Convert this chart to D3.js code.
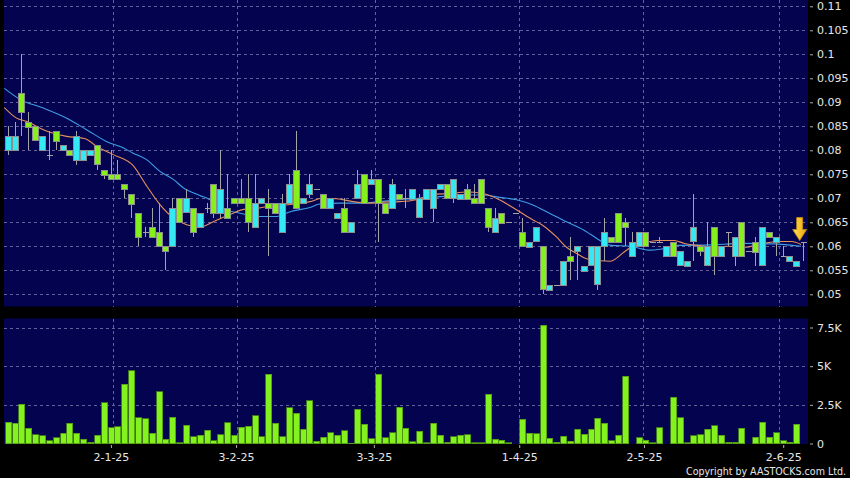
<!DOCTYPE html>
<html><head><meta charset="utf-8">
<script src="https://cdn.jsdelivr.net/npm/d3@7"></script>
<style>body{margin:0;background:#000;}svg{display:block}</style>
</head><body>
<svg id="c" width="850" height="478"></svg>
<script>
// ---- data ----
const opens  = [.080,.080,.092,.086,.085,.080,.079,.084,.080,.080,.078,.078,.079,.081,.076,.075,.075,.073,.071,.067,.063,.064,.063,.060,.060,.070,.067,.068,.064,.068,
.073,.067,.068,.070,.070,.070,.064,.069,.069,.069,.063,.069,.076,.069,.071,.072,.071,.068,.066,.068,.063,.070,.075,.073,.074,.069,.068,.071,.070,.070,
.066,.070,.068,.072,.073,.070,.070,.072,.070,.074,.068,.063,.067,.065,.067,.063,.060,.061,.060,.051,.052,.052,.058,.059,.055,.056,.052,.060,.062,.067,
.065,.058,.060,.063,.061,.061,.058,.061,.056,.056,.061,.060,.056,.064,.058,.063,.058,.065,.059,.061,.056,.063,.061,.058,.057,.056,.061];
const highs  = [.085,.086,.100,.088,.085,.083,.084,.084,.081,.080,.084,.080,.080,.081,.076,.080,.078,.073,.071,.067,.064,.068,.069,.060,.070,.070,.072,.068,.067,.069,
.073,.080,.075,.070,.074,.075,.075,.070,.072,.069,.071,.075,.084,.070,.075,.072,.071,.070,.067,.070,.065,.076,.075,.076,.074,.069,.074,.071,.072,.072,
.071,.072,.072,.073,.073,.074,.071,.073,.073,.074,.068,.068,.067,.065,.067,.066,.061,.064,.060,.052,.052,.057,.062,.060,.056,.060,.060,.066,.062,.067,
.066,.063,.063,.063,.061,.062,.060,.061,.059,.057,.071,.060,.065,.064,.060,.063,.062,.065,.059,.062,.064,.063,.062,.060,.058,.057,.061];
const lows   = [.079,.080,.083,.080,.082,.080,.078,.080,.080,.079,.077,.078,.079,.076,.074,.074,.074,.070,.066,.060,.062,.062,.060,.055,.060,.065,.067,.062,.064,.067,
.066,.066,.066,.069,.069,.063,.064,.069,.058,.067,.063,.069,.068,.069,.070,.072,.068,.068,.066,.063,.063,.070,.069,.073,.061,.067,.068,.070,.068,.070,
.066,.070,.065,.072,.070,.069,.070,.070,.069,.069,.063,.063,.065,.065,.067,.060,.060,.061,.050,.051,.052,.052,.053,.053,.055,.056,.051,.057,.061,.061,
.060,.058,.060,.060,.061,.061,.058,.058,.056,.056,.057,.058,.056,.054,.058,.060,.056,.058,.059,.056,.056,.062,.058,.058,.057,.056,.057];
const closes = [.083,.083,.088,.085,.082,.083,.079,.082,.081,.079,.083,.080,.080,.077,.075,.074,.074,.072,.069,.062,.063,.062,.060,.059,.068,.065,.070,.063,.067,.068,
.067,.072,.066,.069,.069,.065,.069,.070,.068,.067,.069,.073,.068,.070,.073,.072,.068,.070,.067,.063,.065,.073,.069,.074,.069,.067,.073,.070,.070,.072,
.070,.072,.072,.073,.070,.074,.071,.070,.069,.069,.064,.066,.065,.065,.067,.060,.061,.064,.051,.052,.052,.057,.057,.060,.056,.060,.060,.063,.061,.061,
.064,.061,.063,.060,.061,.061,.060,.058,.059,.057,.064,.059,.060,.058,.060,.063,.062,.058,.059,.059,.064,.062,.062,.058,.058,.057,.061];
// volume in thousands
const volumes = [1.36,1.32,2.53,0.97,0.58,0.50,0.17,0.37,0.67,1.30,0.67,0.26,0.09,0.54,2.64,1.02,1.08,3.82,4.71,1.66,1.60,0.65,3.33,0.28,1.71,0.04,1.17,0.43,0.52,0.86,
0.19,0.58,1.34,0.52,1.06,1.10,1.81,0.45,4.49,1.32,0.45,2.31,1.97,0.93,2.76,0.15,0.41,0.71,0.52,0.84,0.02,2.22,1.23,0.32,4.47,0.37,0.69,2.33,0.97,0.11,
0.80,0.06,1.30,0.54,0.09,0.45,0.52,0.58,0.06,0.06,3.17,0.28,0.22,0.06,0,1.56,0.65,0.63,7.65,0.35,0.09,0.48,0.15,0.93,0.60,0.91,1.62,1.32,0.17,0.54,
4.34,0,0.37,0.22,0.04,1.02,0,3.00,1.66,0.04,0.50,0.58,0.93,1.14,0.54,0.09,0.09,0.99,0,0.41,1.36,0.41,0.71,0.17,0.09,1.25,0];
// moving averages: [candle index, value]
const maLong = [[-0.5,.0929],[1.8,.0906],[5.2,.0888],[8.6,.0867],[11.5,.0843],[14.9,.0815],[16.4,.0808],[18.3,.0794],[20.3,.0780],[22.2,.0756],[24.2,.0739],[25.6,.0722],
[28,.0706],[29.5,.0697],[30.9,.0681],[33.9,.0669],[36.8,.0662],[39.2,.0662],[41.2,.0672],[44.1,.0681],[45.5,.0688],[48.5,.0690],[51.4,.0690],[54.3,.0693],[57.2,.0697],
[62,.0702],[66.9,.0707],[69.3,.0707],[71.7,.0702],[74.2,.0697],[76.6,.0686],[79,.0669],[81.5,.0651],[84,.0634],[85,.0625],[88,.0602],[90.8,.0600],[93.7,.0592],
[95.2,.0594],[97.9,.0602],[102.4,.0603],[107.3,.0606],[111.7,.0605],[115.7,.0600]];
const maShort = [[-0.5,.0889],[1.3,.0867],[2.8,.0860],[5.2,.0843],[8.6,.0829],[11.3,.0824],[13,.0808],[15.4,.0791],[18.3,.0768],[20.3,.0725],[22.2,.0687],[24.2,.0659],
[26.1,.0645],[28,.0640],[30,.0651],[31.7,.0662],[32.9,.0669],[34.4,.0677],[36.3,.0679],[38.2,.0684],[40.2,.0686],[42.1,.0688],[44.1,.0693],[45.8,.0700],[48,.0699],
[50.4,.0693],[52.8,.0690],[54.8,.0692],[57.2,.0693],[59.6,.0697],[62,.0708],[64.5,.0710],[66.9,.0713],[69.3,.0710],[71.7,.0697],[74.2,.0676],[76.6,.0655],[78,.0644],
[80,.0620],[81.5,.0598],[83,.0585],[84.4,.0574],[86.4,.0570],[87.9,.0569],[89.9,.0588],[91.3,.0602],[92.8,.0607],[94.7,.0612],[97.2,.0612],[98.7,.0606],[101.1,.0601],
[103,.0598],[105,.0600],[107.5,.0598],[109.9,.0605],[112.3,.0610],[114.3,.0610],[115.7,.0604]];
const dateLabels = ["2-1-25","3-2-25","3-3-25","1-4-25","2-5-25","2-6-25"];
const dateIdx    = [15.05, 33.3, 53.4, 74.6, 92.8, 113.1];
const gridIdx    = [15.4, 33.5, 53.5, 74.5, 92.6, 112.5];
const priceTicks = [0.05,0.055,0.06,0.065,0.07,0.075,0.08,0.085,0.09,0.095,0.1,0.105,0.11];
const priceTickLabels = ["0.05","0.055","0.06","0.065","0.07","0.075","0.08","0.085","0.09","0.095","0.1","0.105","0.11"];
const volTicks = [0,2.5,5,7.5];
const volTickLabels = ["0","2.5K","5K","7.5K"];
const arrowAt = [115.5, 0.0612];

// ---- layout ----
const W=850,H=478;
const P={l:4,r:808,t:0,b:306.5}, V={t:318.5,b:444};
const NAVY="#03034f", GRID="#62629a", UP="#36e8f2", DOWN="#86f01c", EDGE="#8e8e8e";
const svg=d3.select('#c');
svg.append('rect').attr('width',W).attr('height',H).attr('fill','#000');
const x=d3.scaleLinear().domain([0,116]).range([7.7,803.1]);
const y=d3.scaleLinear().domain([0.05,0.11]).range([294.3,6.3]);
const yv=d3.scaleLinear().domain([0,7.5]).range([443.5,327.5]);

svg.append('rect').attr('x',P.l).attr('y',P.t).attr('width',P.r-P.l).attr('height',P.b-P.t).attr('fill',NAVY);
svg.append('rect').attr('x',P.l).attr('y',V.t).attr('width',P.r-P.l).attr('height',V.b-V.t).attr('fill',NAVY);

const defs=svg.append('defs');
defs.append('clipPath').attr('id','cp').append('rect').attr('x',P.l).attr('y',P.t).attr('width',P.r-P.l).attr('height',P.b-P.t);
const gr=defs.append('linearGradient').attr('id','ag').attr('x1','0').attr('x2','1');
gr.append('stop').attr('offset','0').attr('stop-color','#ffe45a');
gr.append('stop').attr('offset','1').attr('stop-color','#e9a20a');

// grids
const g=svg.append('g').attr('stroke',GRID).attr('stroke-dasharray','3,3').attr('stroke-width',1).attr('shape-rendering','crispEdges');
priceTicks.forEach(v=>g.append('line').attr('x1',P.l).attr('x2',P.r).attr('y1',Math.round(y(v))+0.5).attr('y2',Math.round(y(v))+0.5));
volTicks.filter(v=>v>0).forEach(v=>g.append('line').attr('x1',P.l).attr('x2',P.r).attr('y1',Math.round(yv(v))+0.5).attr('y2',Math.round(yv(v))+0.5));
gridIdx.forEach(i=>{
  const xx=Math.round(x(i))+0.5;
  g.append('line').attr('x1',xx).attr('x2',xx).attr('y1',P.t).attr('y2',P.b);
  g.append('line').attr('x1',xx).attr('x2',xx).attr('y1',V.t).attr('y2',V.b);
});

// MA lines
const line=d3.line().x(d=>x(d[0])).y(d=>y(d[1])).curve(d3.curveMonotoneX);
const mg=svg.append('g').attr('clip-path','url(#cp)').attr('fill','none').attr('stroke-width',1.1);
mg.append('path').attr('d',line(maLong)).attr('stroke','#3f9ee6');
mg.append('path').attr('d',line(maShort)).attr('stroke','#e6905c');

// candles
const idx=d3.range(opens.length);
const cg=svg.append('g').attr('shape-rendering','crispEdges');
idx.forEach(i=>{
  const cx=Math.round(x(i))+0.5, o=opens[i], c=closes[i];
  cg.append('line').attr('x1',cx).attr('x2',cx).attr('y1',y(highs[i])).attr('y2',y(lows[i])).attr('stroke','#a4a4a4');
  if(o===c){
    cg.append('line').attr('x1',cx-3).attr('x2',cx+3).attr('y1',Math.round(y(o))+0.5).attr('y2',Math.round(y(o))+0.5).attr('stroke','#a4a4a4');
  } else {
    const t=y(Math.max(o,c)), b=y(Math.min(o,c));
    cg.append('rect').attr('x',cx-3).attr('width',6).attr('y',Math.round(t)+0.5).attr('height',Math.max(1,Math.round(b-t)))
      .attr('fill',c>o?UP:DOWN).attr('stroke',EDGE).attr('stroke-width',1);
  }
});

// volume bars
const vg=svg.append('g').attr('shape-rendering','crispEdges');
idx.forEach(i=>{
  if(volumes[i]<=0) return;
  const cx=Math.round(x(i));
  const t=yv(volumes[i]);
  vg.append('rect').attr('x',cx-2.5).attr('width',6).attr('y',t).attr('height',Math.max(0.8,yv(0)-t))
    .attr('fill','#84f21e').attr('stroke','#4d8f14').attr('stroke-width',0.8);
});

// arrow
const ax=x(arrowAt[0]), ay=y(arrowAt[1]);
svg.append('path').attr('d',`M${ax-3},${ay-23}L${ax+3},${ay-23}L${ax+3},${ay-11}L${ax+7},${ay-11}L${ax},${ay}L${ax-7},${ay-11}L${ax-3},${ay-11}Z`)
  .attr('fill','url(#ag)').attr('stroke','#c98a08').attr('stroke-width',0.8);

// axes
const font='"DejaVu Sans", Verdana, sans-serif';
function styleAxis(sel){
  sel.select('.domain').remove();
  sel.selectAll('line').attr('stroke','#b0b0b0');
  sel.selectAll('text').attr('fill','#e6e6e6').style('font-family',font).style('font-size','11px');
}
svg.append('g').attr('transform',`translate(810,0)`)
  .call(d3.axisRight(y).tickValues(priceTicks).tickFormat((d,i)=>priceTickLabels[i]).tickSize(3).tickPadding(4)).call(styleAxis);
svg.append('g').attr('transform',`translate(810,0)`)
  .call(d3.axisRight(yv).tickValues(volTicks).tickFormat((d,i)=>volTickLabels[i]).tickSize(3).tickPadding(4)).call(styleAxis);
svg.append('g').attr('transform',`translate(0,445)`)
  .call(d3.axisBottom(x).tickValues(dateIdx).tickFormat((d,i)=>dateLabels[i]).tickSize(3).tickPadding(5)).call(styleAxis);

svg.append('text').attr('x',846).attr('y',474.5).attr('text-anchor','end')
  .attr('fill','#e6e6e6').style('font-family','"DejaVu Sans Condensed", "DejaVu Sans", sans-serif').style('font-size','10px')
  .attr('textLength',160).attr('lengthAdjust','spacingAndGlyphs').text('Copyright by AASTOCKS.com Ltd.');
</script>
</body></html>
